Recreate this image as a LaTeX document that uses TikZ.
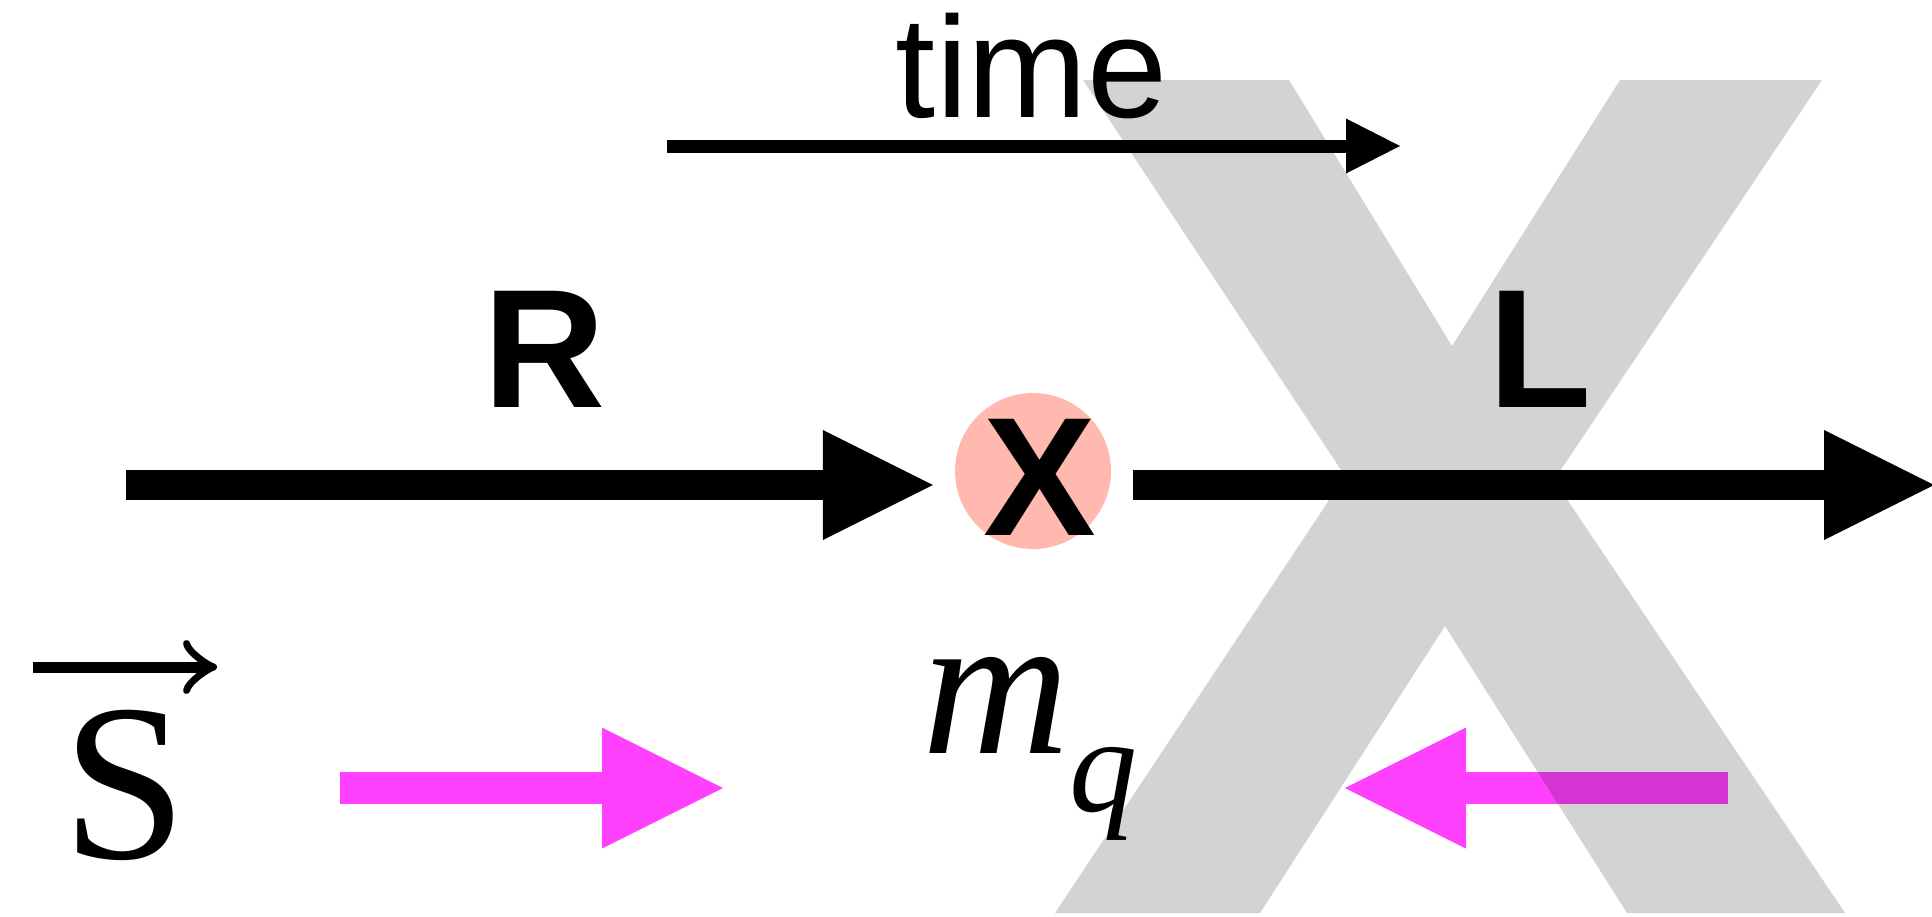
\documentclass[tikz,border=0pt]{standalone}
\usepackage{fontspec}
\setmainfont{Liberation Serif}
\setsansfont{Liberation Sans}
\usetikzlibrary{arrows.meta, positioning}
\definecolor{crossgrey}{RGB}{211,211,211}
\definecolor{vtxpink}{RGB}{255,185,175}
\definecolor{spinmag}{RGB}{255,64,255}

\begin{document}
\begin{tikzpicture}[x=1pt, y=-1pt,
  bigarrow/.style={line width=30pt, -{Triangle[length=110pt, width=110pt, line width=0pt]}},
  spinarrow/.style={spinmag, line width=32pt, -{Triangle[length=121pt, width=121pt, line width=0pt]}},
  heavy/.style={font=\sffamily\bfseries\fontsize{169}{169}\selectfont, inner sep=0pt, anchor=base}]
  \useasboundingbox (0,0) rectangle (1932,916);

  % time axis
  \node[font=\sffamily\fontsize{144}{144}\selectfont, inner sep=0pt, anchor=base] (time) at (1032,117) {time};
  \coordinate (t0) at (667,146);
  \coordinate (t1) at (1400,146);
  \draw[line width=13pt, -{Triangle[length=54pt, width=55pt, line width=0pt]}] (t0) -- (t1);

  \node[heavy] (R) at (545,407) {R};
  \node[heavy] (L) at (1540,407) {L};

  % vertex
  \node[circle, fill=vtxpink, minimum size=156pt, inner sep=0pt] (vtx) at (1033,471) {};
  \node[heavy] (cross) at (1040,535) {X};
  \coordinate (qin) at (126,485);
  \coordinate (qout) at (1934,485);
  \draw[bigarrow, shorten >=22pt] (qin) -- (qin -| vtx.west);
  \draw[bigarrow, shorten <=22pt] (qout -| vtx.east) -- (qout);

  % spin
  \node[font=\fontsize{224}{224}\selectfont, inner sep=0pt, anchor=base] (spin) at (125,858) {S};
  \coordinate (s0) at (33,667);
  \coordinate (s1) at (217,667);
  \draw[line width=11pt, -{Classical TikZ Rightarrow[length=34pt, width=54pt, line width=7pt]}] (s0) -- (s1);

  \node[font=\itshape\fontsize{204}{204}\selectfont, inner sep=0pt, anchor=base west] (mass) at (922,753) {m\raisebox{-58pt}{\fontsize{136}{136}\selectfont q}};

  \coordinate (a0) at (340,788);
  \coordinate (a1) at (723,788);
  \coordinate (b0) at (1728,788);
  \coordinate (b1) at (1345,788);
  \draw[spinarrow] (a0) -- (a1);
  \draw[spinarrow] (b0) -- (b1);

  % big grey X behind everything (multiply)
  \fill[crossgrey, blend mode=multiply] (1083,80) -- (1289,80) -- (1452,346) -- (1620,80) -- (1822,80) -- (1554,480) -- (1845,913) -- (1627,913) -- (1445,626) -- (1260,913) -- (1055,913) -- (1345,476) -- cycle;
\end{tikzpicture}
\end{document}
